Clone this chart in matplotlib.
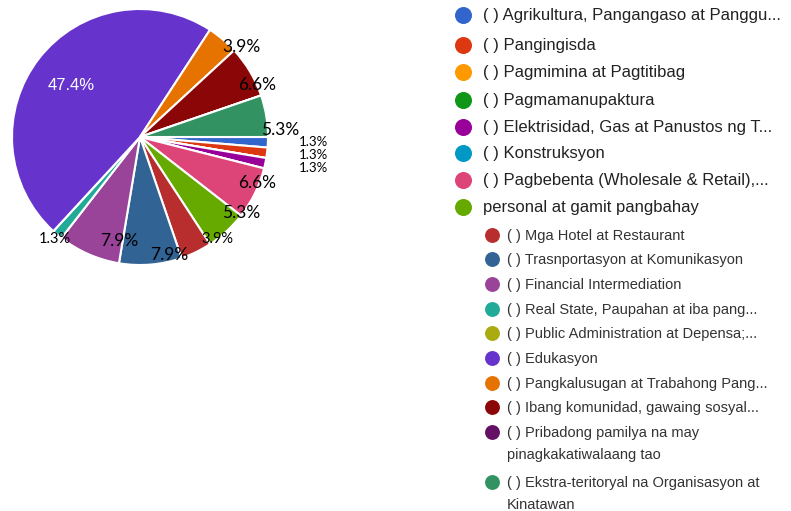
import matplotlib.pyplot as plt

W, H = 791, 511

sectors = [
    "( ) Agrikultura, Pangangaso at Panggu...",
    "( ) Pangingisda",
    "( ) Pagmimina at Pagtitibag",
    "( ) Pagmamanupaktura",
    "( ) Elektrisidad, Gas at Panustos ng T...",
    "( ) Konstruksyon",
    "( ) Pagbebenta (Wholesale & Retail),...",
    "personal at gamit pangbahay",
    "( ) Mga Hotel at Restaurant",
    "( ) Trasnportasyon at Komunikasyon",
    "( ) Financial Intermediation",
    "( ) Real State, Paupahan at iba pang...",
    "( ) Public Administration at Depensa;...",
    "( ) Edukasyon",
    "( ) Pangkalusugan at Trabahong Pang...",
    "( ) Ibang komunidad, gawaing sosyal...",
    "( ) Pribadong pamilya na may\npinagkakatiwalaang tao",
    "( ) Ekstra-teritoryal na Organisasyon at\nKinatawan",
]
counts = [1, 1, 0, 0, 1, 0, 5, 4, 3, 6, 6, 1, 0, 36, 3, 5, 0, 4]
colors = ["#3366cc", "#dc3912", "#ff9900", "#109618", "#990099", "#0099c6",
          "#dd4477", "#66aa00", "#b82e2e", "#316395", "#994499", "#22aa99",
          "#aaaa11", "#6633cc", "#e67300", "#8b0707", "#651067", "#329262"]

# label placement (pixel coords from top-left), for the non-zero slices in order
label_pos = [(313, 142), (313, 155), (313, 168), (257, 183), (241, 213),
             (217, 239), (169, 255), (119, 241), (55, 239), (71, 85),
             (241, 47), (257, 85), (280, 130)]
small = {0, 1, 2, 5, 8}

fig = plt.figure(figsize=(W / 100, H / 100), dpi=100)
ax = fig.add_axes([0, 0, 1, 1])

total = sum(counts)
wedges, _ = ax.pie(counts, colors=colors, startangle=0, counterclock=False,
                   center=(140, H - 137), radius=128,
                   wedgeprops=dict(edgecolor="white", linewidth=1.5))
ax.set_xlim(0, W)
ax.set_ylim(0, H)
ax.set_aspect("equal")
ax.axis("off")

nz = [c for c in counts if c > 0]
for i, (c, (px, py)) in enumerate(zip(nz, label_pos)):
    txt = f"{100 * c / total:.1f}%"
    if c == max(nz):
        ax.text(px, H - py, txt, color="white", fontsize=12,
                family="Liberation Sans", ha="center", va="center")
    else:
        size = 12.5
        if i in small:
            size = 9.5 if i < 3 else 10.5
        ax.text(px, H - py, txt, color="black", fontsize=size,
                family="Lato", ha="center", va="center")

# legend
rows1 = [15, 45, 72, 100, 127, 153, 180, 207]
rows2 = [235, 259, 284, 309, 333, 358, 383, 407, 432, 482]
for k, y in enumerate(rows1):
    ax.scatter(463, H - y, s=150, color=colors[k], linewidths=0)
    ax.text(483, H - y, sectors[k], fontsize=12, color="#222222",
            family="Liberation Sans", ha="left", va="center")
for j, y in enumerate(rows2):
    k = j + len(rows1)
    ax.scatter(492, H - y, s=115, color=colors[k], linewidths=0)
    ax.text(507, H - y + 6, sectors[k], fontsize=10.5, color="#333333",
            family="Liberation Sans", ha="left", va="top", linespacing=1.7)

fig.savefig("out.png", dpi=100)
